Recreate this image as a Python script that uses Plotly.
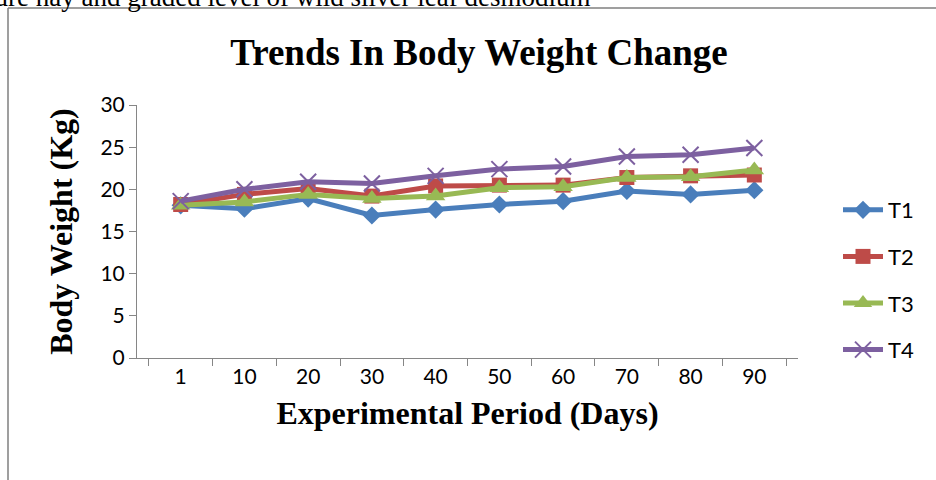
import plotly.graph_objects as go

days = ["1", "10", "20", "30", "40", "50", "60", "70", "80", "90"]
t1 = [18.1, 17.7, 18.9, 16.9, 17.6, 18.2, 18.6, 19.8, 19.4, 19.9]
t2 = [18.2, 19.4, 20.1, 19.2, 20.4, 20.5, 20.5, 21.4, 21.6, 21.7]
t3 = [18.1, 18.5, 19.4, 18.9, 19.2, 20.2, 20.3, 21.4, 21.5, 22.3]
t4 = [18.6, 20.0, 20.9, 20.7, 21.6, 22.4, 22.7, 23.9, 24.1, 24.9]
series_names = ["T1", "T2", "T3", "T4"]
series_values = [t1, t2, t3, t4]
colors = ["#4A7EBB", "#BE4B48", "#98B954", "#7D60A0"]
symbols = ["diamond", "square", "triangle-up", "x-thin"]
sizes = [14, 15, 17, 16]

fig = go.Figure()
for i, (name, vals) in enumerate(zip(series_names, series_values)):
    marker = dict(symbol=symbols[i], size=sizes[i], color=colors[i])
    if symbols[i] == "x-thin":
        marker["line"] = dict(color=colors[i], width=2)
    fig.add_trace(go.Scatter(
        x=days, y=vals, name=name, mode="lines+markers",
        line=dict(color=colors[i], width=5),
        marker=marker, legendgroup=name,
    ))

L, R, T, B = 137, 798, 105, 358
W, H = 936, 480

def px(x):
    return (x - L) / (R - L)

def py(y):
    return (B - y) / (B - T)

fig.update_layout(
    width=W, height=H,
    margin=dict(l=L, r=W - R, t=T, b=H - B, pad=0),
    paper_bgcolor="white", plot_bgcolor="white",
    showlegend=True,
    legend=dict(x=px(838), y=py(189), xanchor="left", yanchor="top",
                font=dict(family="Lato", size=22, color="#000000"),
                tracegroupgap=15, itemwidth=40, bgcolor="rgba(0,0,0,0)"),
    title=dict(text="<b>Trends In Body Weight Change</b>", x=px(479), xref="paper",
               xanchor="center", y=1 - 52 / H, yanchor="middle",
               font=dict(family="Liberation Serif", size=37, color="#000000")),
    xaxis=dict(type="category", tickson="boundaries", ticks="outside", ticklen=7,
               tickcolor="#868686", showline=True, linecolor="#868686", linewidth=1,
               showgrid=False, zeroline=False,
               tickfont=dict(family="Lato", size=21, color="#000000"),
               title=dict(text="<b>Experimental Period (Days)</b>", standoff=14,
                          font=dict(family="Liberation Serif", size=32, color="#000000"))),
    yaxis=dict(range=[0, 30], dtick=5, ticks="outside", ticklen=7,
               tickcolor="#868686", showline=True, linecolor="#868686", linewidth=1,
               showgrid=False, zeroline=False,
               tickfont=dict(family="Lato", size=21, color="#000000"),
               title=dict(text="<b>Body Weight (Kg)</b>", standoff=18,
                          font=dict(family="Liberation Serif", size=32, color="#000000"))),
    shapes=[
        dict(type="line", xref="paper", yref="paper", x0=px(8), x1=px(940), y0=py(8), y1=py(8),
             line=dict(color="#7F7F7F", width=1.5)),
        dict(type="line", xref="paper", yref="paper", x0=px(8), x1=px(8), y0=py(8), y1=py(485),
             line=dict(color="#7F7F7F", width=1.5)),
    ],
    annotations=[
        dict(text="pasture hay and graded level of wild silver leaf desmodium", xref="paper", yref="paper",
             x=px(593), y=py(14), xanchor="right", yanchor="bottom", showarrow=False,
             font=dict(family="Liberation Serif", size=27, color="#000000")),
    ],
)

fig.write_html("out.html", config={"displayModeBar": False},
               post_script="document.body.style.margin='0';document.body.style.padding='0';")
